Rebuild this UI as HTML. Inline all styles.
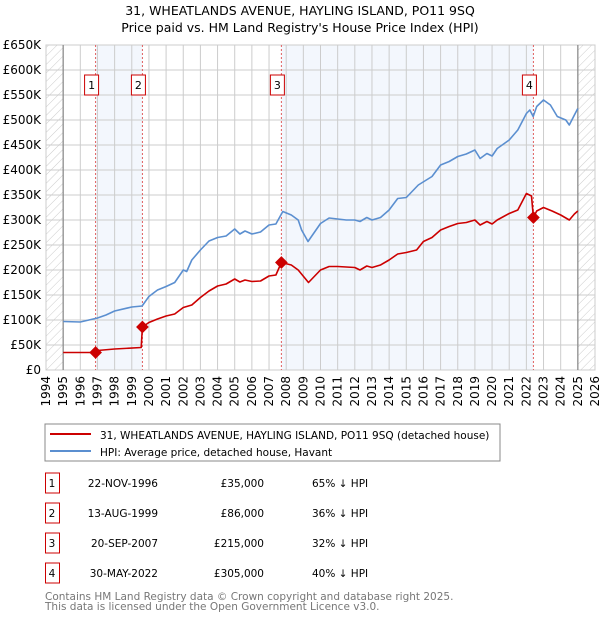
<!DOCTYPE html>
<html><head><meta charset="utf-8"><style>
body{margin:0;background:#fff;font-family:"DejaVu Sans","Liberation Sans",sans-serif;}
svg text{font-family:"DejaVu Sans","Liberation Sans",sans-serif;}
</style></head><body>
<svg id="c" width="600" height="620" xmlns="http://www.w3.org/2000/svg">
<defs><pattern id="hatch" width="6" height="6" patternUnits="userSpaceOnUse" patternTransform="rotate(45)"><line x1="0" y1="0" x2="0" y2="6" stroke="#ccc" stroke-width="1"/></pattern></defs>
<text x="300" y="15" text-anchor="middle" font-size="12.5">31, WHEATLANDS AVENUE, HAYLING ISLAND, PO11 9SQ</text>
<text x="300" y="32" text-anchor="middle" font-size="12.5">Price paid vs. HM Land Registry's House Price Index (HPI)</text>
<g id="plot"></g>
<rect x="45" y="424" width="455" height="37" fill="#fff" stroke="#888"/>
<line x1="50" y1="434" x2="91" y2="434" stroke="#cc0000" stroke-width="2"/>
<text x="100" y="439" font-size="10.5">31, WHEATLANDS AVENUE, HAYLING ISLAND, PO11 9SQ (detached house)</text>
<line x1="50" y1="451" x2="91" y2="451" stroke="#5b8fd0" stroke-width="2"/>
<text x="100" y="456" font-size="10.5">HPI: Average price, detached house, Havant</text>
<g id="table"></g>
<text x="45" y="600" font-size="10.5" fill="#777">Contains HM Land Registry data © Crown copyright and database right 2025.</text>
<text x="45" y="610" font-size="10.5" fill="#777">This data is licensed under the Open Government Licence v3.0.</text>
</svg>
<script>
const hpiYears=[1995,1996,1997,1997.5,1998,1999,1999.6,2000,2000.5,2001,2001.5,2002,2002.2,2002.5,2003,2003.5,2004,2004.5,2005,2005.3,2005.6,2006,2006.5,2007,2007.4,2007.8,2008.3,2008.7,2008.9,2009.27,2010,2010.5,2011,2011.5,2012,2012.3,2012.7,2013,2013.5,2014,2014.5,2015,2015.7,2016.5,2017,2017.5,2018,2018.5,2019,2019.3,2019.7,2020,2020.3,2021,2021.5,2022,2022.2,2022.4,2022.6,2023,2023.4,2023.8,2024.3,2024.5,2024.8,2025];
const hpiValues=[97,96,104,110,118,126,128,147,160,167,175,200,197,220,240,258,265,268,282,272,278,272,276,290,292,317,310,300,280,257,293,304,302,300,300,297,305,300,305,320,343,345,370,387,410,417,427,432,440,423,433,428,443,460,480,513,520,507,527,540,530,507,500,490,510,523];
const propYears=[1995,1996.9,1997,1998,1999.55,1999.62,2000,2000.5,2001,2001.5,2002,2002.5,2003,2003.5,2004,2004.5,2005,2005.3,2005.6,2006,2006.5,2007,2007.4,2007.72,2008.3,2008.7,2009.3,2010,2010.5,2011,2012,2012.3,2012.7,2013,2013.5,2014,2014.5,2015,2015.6,2016,2016.5,2017,2017.5,2018,2018.5,2019,2019.3,2019.7,2020,2020.3,2021,2021.5,2022,2022.3,2022.41,2022.6,2023,2023.5,2024,2024.5,2024.8,2025];
const propValues=[35,35,39,42,45,86,95,102,108,112,125,130,145,158,168,172,182,176,180,177,178,188,190,215,210,200,175,200,207,207,205,200,208,205,210,220,232,235,240,257,265,280,287,293,295,300,290,297,292,300,313,320,353,348,305,318,325,318,310,300,312,318];
const saleLabels=["1","2","3","4"];
const saleYears=[1996.89,1999.62,2007.72,2022.41];
const salePrices=[35,86,215,305];
const saleDates=["22-NOV-1996","13-AUG-1999","20-SEP-2007","30-MAY-2022"];
const salePriceText=["£35,000","£86,000","£215,000","£305,000"];
const saleHpiText=["65% ↓ HPI","36% ↓ HPI","32% ↓ HPI","40% ↓ HPI"];
const yTicks=[0,50,100,150,200,250,300,350,400,450,500,550,600,650];
const yTickLabels=["£0","£50K","£100K","£150K","£200K","£250K","£300K","£350K","£400K","£450K","£500K","£550K","£600K","£650K"];
const xTicks=[1994,1995,1996,1997,1998,1999,2000,2001,2002,2003,2004,2005,2006,2007,2008,2009,2010,2011,2012,2013,2014,2015,2016,2017,2018,2019,2020,2021,2022,2023,2024,2025,2026];

const X0=46,X1=595,Y0=370,Y1=45;
const xs=y=>X0+(y-1994)/(2026-1994)*(X1-X0);
const ys=v=>Y0-v/650*(Y0-Y1);
const NS="http://www.w3.org/2000/svg";
const plot=document.getElementById('plot');
function mk(tag,attrs,parent){const e=document.createElementNS(NS,tag);for(const k in attrs)e.setAttribute(k,attrs[k]);(parent||plot).appendChild(e);return e;}

let r=mk('rect',{x:X0,y:Y1,width:X1-X0,height:Y0-Y1,fill:'#fff',stroke:'#ccc'});


[[saleYears[0],saleYears[1]],[saleYears[2],saleYears[3]]].forEach(p=>{
 const s=mk('rect',{x:xs(p[0]),y:Y1,width:xs(p[1])-xs(p[0]),height:Y0-Y1,fill:'#eef3fc',opacity:0.7});
 
 
});
[[1994,1995],[2025,2026]].forEach(p=>{
 const h=mk('rect',{x:xs(p[0]),y:Y1,width:xs(p[1])-xs(p[0]),height:Y0-Y1,fill:'url(#hatch)'});
 
 
});
yTicks.forEach((v,i)=>{
 const g=mk('line',{x1:X0,x2:X1,y1:ys(v),y2:ys(v),stroke:'#ccc'});
 
 
 const t=mk('text',{x:X0-5,y:ys(v)+4,'text-anchor':'end','font-size':'12'});
 t.textContent=yTickLabels[i];
 
 
});
xTicks.forEach(yr=>{
 const g=mk('line',{x1:xs(yr),x2:xs(yr),y1:Y1,y2:Y0,stroke:'#ccc'});
 
 
 const t=mk('text',{x:0,y:0,'text-anchor':'end','font-size':'12',transform:`translate(${xs(yr)+4},${Y0+6}) rotate(-90)`});
 t.textContent=yr;
 
 
});
[1995,2025].forEach(yr=>{
 const b=mk('line',{x1:xs(yr),x2:xs(yr),y1:Y1,y2:Y0,stroke:'#888','stroke-width':1.2});
 
 
});
saleYears.forEach(yr=>{
 const l=mk('line',{x1:xs(yr),x2:xs(yr),y1:Y1,y2:Y0,stroke:'#e06060','stroke-dasharray':'2,2'});
 
 
});
function path(xa,va,color,name){
 const d=xa.map((x,i)=>(i?'L':'M')+xs(x).toFixed(1)+','+ys(va[i]).toFixed(1)).join('');
 const p=mk('path',{d:d,fill:'none',stroke:color,'stroke-width':1.6,'stroke-linejoin':'round'});
 
 
}
path(hpiYears,hpiValues,'#5b8fd0','hpi-line');
path(propYears,propValues,'#cc0000','property-price-line');
saleYears.forEach((yr,i)=>{
 const m=mk('rect',{x:xs(yr)-4.5,y:ys(salePrices[i])-4.5,width:9,height:9,fill:'#cc0000',transform:`rotate(45 ${xs(yr)} ${ys(salePrices[i])})`});
 
 
 const b=mk('rect',{x:xs(yr)-11,y:75,width:14,height:20,fill:'#fff',stroke:'#cc0000'});
 
 
 const t=mk('text',{x:xs(yr)-4,y:89,'text-anchor':'middle','font-size':'11'});
 t.textContent=saleLabels[i];
 
 
});
const tb=document.getElementById('table');
saleLabels.forEach((lab,i)=>{
 const cy=483+i*30;
 const b=mk('rect',{x:45.5,y:cy-10,width:14,height:20,fill:'#fff',stroke:'#cc0000'},tb);
 
 
 const cells=[[52,'middle',lab,'table-row-number'],[158,'end',saleDates[i],'table-row-date'],[264,'end',salePriceText[i],'table-row-price'],[312,'start',saleHpiText[i],'table-row-hpi']];
 cells.forEach(c=>{
  const t=mk('text',{x:c[0],y:cy+4,'text-anchor':c[1],'font-size':'10.5'},tb);
  t.textContent=c[2];
  
  
 });
});
</script>
</body></html>
